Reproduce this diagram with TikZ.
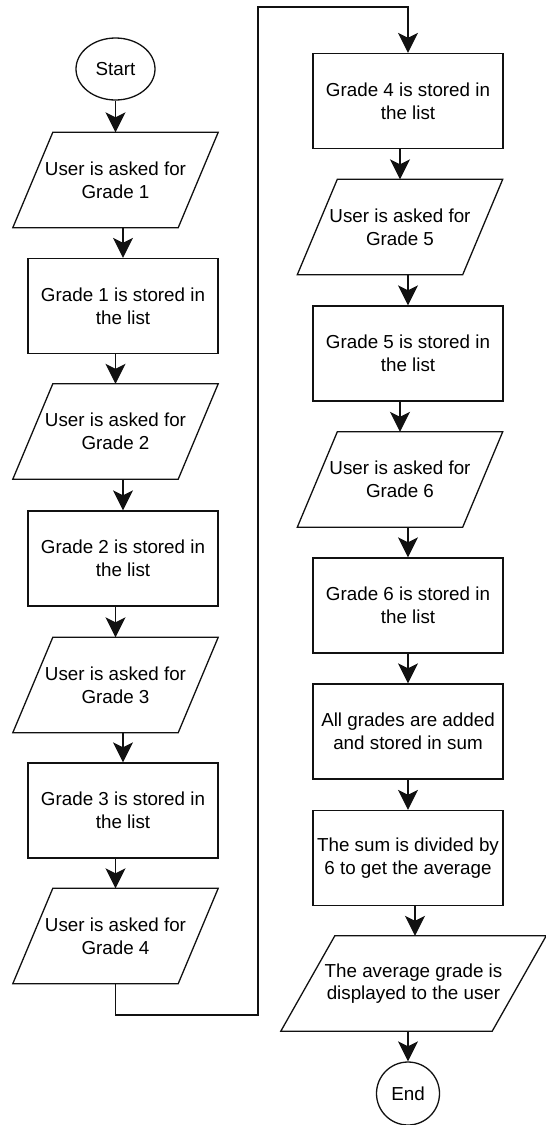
\documentclass[tikz,border=0pt]{standalone}
\usepackage{fontspec}
\setmainfont{Liberation Sans}
\usetikzlibrary{arrows.meta,shapes.geometric}
\definecolor{lc}{HTML}{111111}
\begin{document}
\begin{tikzpicture}[x=1pt,y=-1pt,
  txt/.style={font=\fontsize{18.8}{22.6}\selectfont, align=center, text=black, inner sep=0pt},
  proc/.style={txt, draw=lc, line width=1.3pt, rectangle, minimum width=190pt, minimum height=95pt},
  io/.style={txt, rectangle, minimum height=95pt},
  iofr/.style={draw=lc, line width=1.3pt, line join=miter},
  term/.style={txt, draw=lc, line width=1.3pt, ellipse},
  arr/.style={draw=lc, line width=1.3pt, -{Stealth[length=20pt,width=20pt,inset=5pt]}},
  wire/.style={draw=lc, line width=1.3pt}]
\useasboundingbox (0,0) rectangle (546,1125);

% left column
\node[term, minimum width=79pt, minimum height=62pt] (start) at (115.5,69) {Start};
\node[io, minimum width=165pt] (p1) at (115.5,180) {User is asked for\\Grade 1};
\node[proc] (r1) at (123,306) {Grade 1 is stored in\\the list};
\node[io, minimum width=165pt] (p2) at (115.5,431.5) {User is asked for\\Grade 2};
\node[proc] (r2) at (123,558.5) {Grade 2 is stored in\\the list};
\node[io, minimum width=165pt] (p3) at (115.5,685) {User is asked for\\Grade 3};
\node[proc] (r3) at (123,810.5) {Grade 3 is stored in\\the list};
\node[io, minimum width=165pt] (p4) at (115.5,936) {User is asked for\\Grade 4};

% right column
\node[proc] (r4) at (408,101) {Grade 4 is stored in\\the list};
\node[io, minimum width=165pt] (p5) at (400,227) {User is asked for\\Grade 5};
\node[proc] (r5) at (408,353.5) {Grade 5 is stored in\\the list};
\node[io, minimum width=165pt] (p6) at (400,479.5) {User is asked for\\Grade 6};
\node[proc] (r6) at (408,605.5) {Grade 6 is stored in\\the list};
\node[proc] (r7) at (408,731.5) {All grades are added\\and stored in sum};
\node[proc] (r8) at (408,858) {The sum is divided by\\6 to get the average};
\node[io, minimum width=211pt] (p7) at (413.5,983.5) {The average grade is\\displayed to the user};
\node[term, minimum width=63pt, minimum height=63pt] (end) at (408,1093.5) {End};

% parallelogram outlines
\foreach \n/\s in {p1/20,p2/20,p3/20,p4/20,p5/20,p6/20,p7/27}{
  \draw[iofr] ([xshift=-\s pt]\n.south west) -- ([xshift=-\s pt]\n.south east)
     -- ([xshift=\s pt]\n.north east) -- ([xshift=\s pt]\n.north west) -- cycle;
}

% connectors
\draw[arr] (start) -- (p1.north -| start);
\draw[arr] (p1.south -| r1.north) -- (r1.north);
\draw[arr] (r1.south -| p2.north) -- (p2.north);
\draw[arr] (p2.south -| r2.north) -- (r2.north);
\draw[arr] (r2.south -| p3.north) -- (p3.north);
\draw[arr] (p3.south -| r3.north) -- (r3.north);
\draw[arr] (r3.south -| p4.north) -- (p4.north);

\coordinate (c1) at (115.5,1015);
\coordinate (c2) at (258,1015);
\coordinate (c3) at (258,7);
\coordinate (c4) at (408,7);
\draw[arr] (p4.south) -- (c1) -- (c2) -- (c3) -- (c4) -- (r4.north);

\draw[arr] (r4.south -| p5.north) -- (p5.north);
\draw[arr] (p5.south -| r5.north) -- (r5.north);
\draw[arr] (r5.south -| p6.north) -- (p6.north);
\draw[arr] (p6.south -| r6.north) -- (r6.north);
\draw[arr] (r6) -- (r7);
\draw[arr] (r7) -- (r8);
\draw[arr] ([xshift=1.5pt]r8.south -| p7.north) -- ([xshift=1.5pt]p7.north);
\draw[arr] (p7.south -| end.north) -- (end.north);
\end{tikzpicture}
\end{document}
